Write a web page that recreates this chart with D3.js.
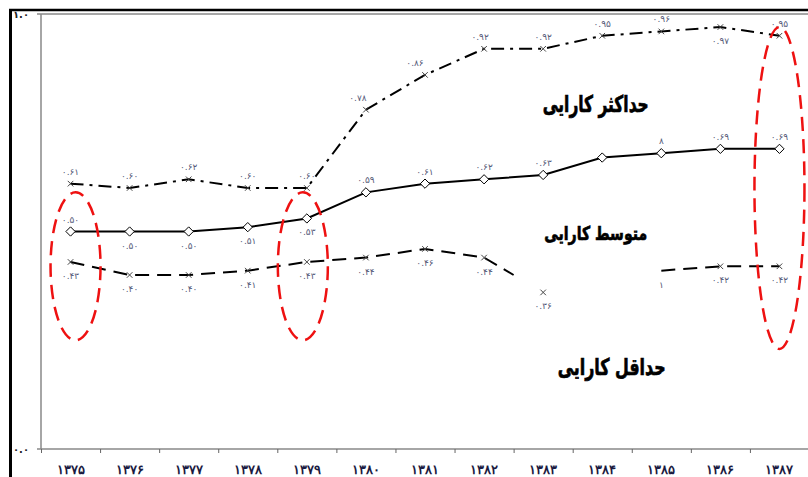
<!DOCTYPE html>
<html>
<head>
<meta charset="utf-8">
<script src="https://cdn.jsdelivr.net/npm/d3@7"></script>
<style>
  body { margin: 0; background: #fff; }
  svg { display: block; font-family: "DejaVu Sans", sans-serif; }
</style>
</head>
<body>
<svg id="chart"></svg>
<script>
// years (Persian digits)
let years = ["۱۳۷۵", "۱۳۷۶", "۱۳۷۷", "۱۳۷۸", "۱۳۷۹", "۱۳۸۰", "۱۳۸۱", "۱۳۸۲", "۱۳۸۳", "۱۳۸۴", "۱۳۸۵", "۱۳۸۶", "۱۳۸۷"];

let maxEff  = [0.61, 0.60, 0.62, 0.60, 0.60, 0.78, 0.86, 0.92, 0.92, 0.95, 0.96, 0.97, 0.95];
let meanEff = [0.50, 0.50, 0.50, 0.51, 0.53, 0.59, 0.61, 0.62, 0.63, 0.67, 0.68, 0.69, 0.69];
let minEff  = [0.43, 0.40, 0.40, 0.41, 0.43, 0.44, 0.46, 0.44, 0.36, null, 0.41, 0.42, 0.42];

// value labels as they appear on the chart (null = not shown)
let maxLabels  = ["۰.۶۱", "۰.۶۰", "۰.۶۲", "۰.۶۰", "۰.۶۰", "۰.۷۸", "۰.۸۶", "۰.۹۲", "۰.۹۲", "۰.۹۵", "۰.۹۶", "۰.۹۷", "۰.۹۵"];
let meanLabels = ["۰.۵۰", "۰.۵۰", "۰.۵۰", "۰.۵۱", "۰.۵۳", "۰.۵۹", "۰.۶۱", "۰.۶۲", "۰.۶۳", null, "۸", "۰.۶۹", "۰.۶۹"];
let minLabels  = ["۰.۴۳", "۰.۴۰", "۰.۴۰", "۰.۴۱", "۰.۴۳", "۰.۴۴", "۰.۴۶", "۰.۴۴", "۰.۳۶", null, "۱", "۰.۴۲", "۰.۴۲"];

let yTickLabels = ["۰.۰", "۱.۰"];

// circled years: [year, low value, high value]
let circled = [["۱۳۷۵", 0.25, 0.59], ["۱۳۷۹", 0.25, 0.59], ["۱۳۸۷", 0.23, 0.97]];

let seriesNames = ["حداکثر کارایی", "متوسط کارایی", "حداقل کارایی"];

let width  = 808;
let height = 477;
let svg    = d3.select("#chart").attr("width", width).attr("height", height);

let x = d3.scaleBand().domain(years).range([41, 809]);
let y = d3.scaleLinear().domain([0, 1]).range([449, 14]);
let cx = d => x(d) + x.bandwidth() / 2;

// outer frame
svg.append("line").attr("x1", 10.5).attr("x2", 10.5).attr("y1", 9).attr("y2", height)
  .attr("stroke", "#000").attr("stroke-width", 3);
svg.append("line").attr("x1", 9).attr("x2", width).attr("y1", 10).attr("y2", 10)
  .attr("stroke", "#000").attr("stroke-width", 2.5);

// plot border
svg.append("line").attr("x1", 37).attr("x2", width).attr("y1", y(1)).attr("y2", y(1))
  .attr("stroke", "#888").attr("stroke-width", 1.5);
svg.append("line").attr("x1", 41).attr("x2", 41).attr("y1", y(1)).attr("y2", y(0))
  .attr("stroke", "#888").attr("stroke-width", 1.5);

// x axis
let xAxis = svg.append("g").attr("transform", "translate(0," + y(0) + ")")
  .call(d3.axisBottom(x).tickSize(0).tickPadding(16));
xAxis.select(".domain").attr("stroke", "#888").attr("stroke-width", 1.5).attr("d", "M37,0H" + width);
xAxis.selectAll("text").attr("font-size", 13).attr("font-weight", "bold").attr("fill", "#1a1a40");
xAxis.selectAll(".bt").data(years).enter().append("line")
  .attr("x1", d => x(d) + 0.5).attr("x2", d => x(d) + 0.5)
  .attr("y1", 0).attr("y2", 4).attr("stroke", "#666");

// y labels
svg.selectAll(".ylab").data([0, 1]).enter().append("text")
  .attr("x", 13).attr("y", d => y(d) + 4)
  .attr("font-size", 10).attr("font-weight", "bold").attr("fill", "#222")
  .text((d, i) => yTickLabels[i]);

// lines
let line = d3.line().defined(d => d[1] != null).x(d => cx(d[0])).y(d => y(d[1]));
let pairs = arr => years.map((yr, i) => [yr, arr[i]]);

svg.append("path").attr("d", line(pairs(maxEff)))
  .attr("fill", "none").attr("stroke", "#000").attr("stroke-width", 2)
  .attr("stroke-dasharray", "13,6,3,6");

svg.append("path").attr("d", line(pairs(meanEff)))
  .attr("fill", "none").attr("stroke", "#000").attr("stroke-width", 2);

// min line: 1383 only half joined in the reference, isolated afterwards
let minPts = pairs(minEff);
let i83 = years.indexOf("۱۳۸۳");
let minA = minPts.slice(0, i83);
let half = d3.interpolate([cx(years[i83 - 1]), y(minEff[i83 - 1])], [cx(years[i83]), y(minEff[i83])])(0.5);
let minB = minPts.slice(i83 + 2);
svg.append("path").attr("d", line(minA) + "L" + half[0] + "," + half[1])
  .attr("fill", "none").attr("stroke", "#000").attr("stroke-width", 2)
  .attr("stroke-dasharray", "14,8");
svg.append("path").attr("d", line(minB))
  .attr("fill", "none").attr("stroke", "#000").attr("stroke-width", 2)
  .attr("stroke-dasharray", "14,8");

// markers
function crosses(arr, skip) {
  svg.append("g").selectAll("path").data(pairs(arr).filter((d, i) => d[1] != null && !skip.includes(i)))
    .enter().append("path")
    .attr("d", d3.symbol(d3.symbolTimes, 22)())
    .attr("transform", d => "translate(" + cx(d[0]) + "," + y(d[1]) + ")")
    .attr("stroke", "#444").attr("stroke-width", 1).attr("fill", "none");
}
crosses(maxEff, []);
crosses(minEff, [10]);

svg.append("g").selectAll("path").data(pairs(meanEff)).enter().append("path")
  .attr("d", d3.symbol(d3.symbolDiamond2, 55)())
  .attr("transform", d => "translate(" + cx(d[0]) + "," + y(d[1]) + ")")
  .attr("stroke", "#000").attr("stroke-width", 1).attr("fill", "#fff");

// value labels
function labels(arr, labs, below, dxs) {
  svg.append("g").selectAll("text").data(pairs(arr).map((d, i) => [d[0], d[1], labs[i], i]).filter(d => d[2] != null && d[1] != null))
    .enter().append("text")
    .attr("x", d => cx(d[0]) + (dxs[d[3]] || 0))
    .attr("y", d => y(d[1]) + (below.includes(d[3]) ? 17 : -9))
    .attr("text-anchor", "middle").attr("font-size", 9).attr("fill", "#555a78")
    .text(d => d[2]);
}
labels(maxEff, maxLabels, [11], {5: -8, 6: -10, 7: -4});
labels(meanEff, meanLabels, [1, 2, 3, 4], {});
labels(minEff, minLabels, [0, 1, 2, 3, 4, 5, 6, 7, 8, 10, 11, 12], {});

// circled annotations (horizontal nudge per ellipse)
let circleShift = [5, -4, 0];
svg.append("g").selectAll("ellipse").data(circled).enter().append("ellipse")
  .attr("cx", (d, i) => cx(d[0]) + circleShift[i])
  .attr("cy", d => (y(d[1]) + y(d[2])) / 2)
  .attr("rx", 25)
  .attr("ry", d => (y(d[1]) - y(d[2])) / 2)
  .attr("fill", "none").attr("stroke", "#ee1111").attr("stroke-width", 2.5)
  .attr("stroke-dasharray", "14,8");

// series names: [x offset from 1384 band, value, font size, text width]
let nameSpots = [[23, 0.775, 23, 106], [23, 0.48, 19, 103], [39, 0.17, 23, 108]];
svg.append("g").selectAll("text").data(seriesNames).enter().append("text")
  .attr("x", (d, i) => x("۱۳۸۴") + nameSpots[i][0] - nameSpots[i][3] / 2)
  .attr("y", (d, i) => y(nameSpots[i][1]))
  .attr("font-size", (d, i) => nameSpots[i][2]).attr("font-weight", "bold").attr("fill", "#000")
  .attr("stroke", "#000").attr("stroke-width", 0.7)
  .attr("textLength", (d, i) => nameSpots[i][3]).attr("lengthAdjust", "spacingAndGlyphs")
  .text(d => d);
</script>
</body>
</html>
